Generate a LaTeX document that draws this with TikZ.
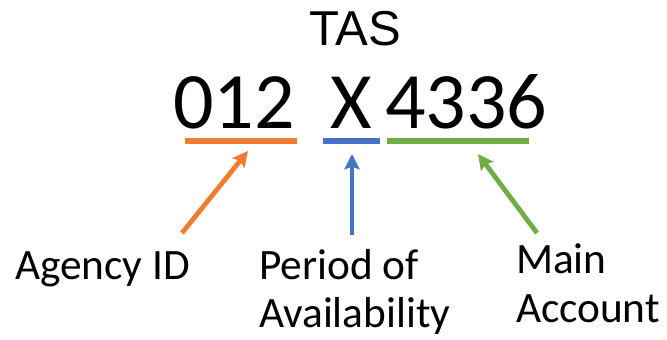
\documentclass[tikz,border=0pt]{standalone}
\usepackage{fontspec}
\setmainfont{Carlito}
\newfontfamily\arialfont{Liberation Sans}
\usetikzlibrary{arrows.meta}
\definecolor{offorange}{HTML}{ED7D31}
\definecolor{offblue}{HTML}{4472C4}
\definecolor{offgreen}{HTML}{70AD47}
\begin{document}
\begin{tikzpicture}[x=0.75pt,y=-0.75pt,
  txt/.style={inner sep=0pt, outer sep=0pt, anchor=base west},
  lbl/.style={txt, font=\fontsize{32.5}{38}\selectfont},
  code/.style={txt, font=\fontsize{60}{70}\selectfont},
  uline/.style={line width=3.9pt},
  ptr/.style={line width=3.6pt, -{Stealth[length=11.5pt,width=11.5pt,inset=2pt]}}]
\useasboundingbox (0,0) rectangle (667,339);
\node[txt, anchor=base, font=\arialfont\fontsize{36.75}{40}\selectfont] (tas) at (355,45) {TAS};
\node[code] (agency) at (173,128) {012};
\node[code] (period) at (330,128) {X};
\node[code] (main) at (385,128) {4336};
% underlines
\coordinate (oL) at (185,141); \coordinate (oR) at (297,141);
\coordinate (bL) at (323,141); \coordinate (bR) at (380,141);
\coordinate (gL) at (387,141); \coordinate (gR) at (529,141);
\draw[uline, offorange] (oL) -- (oR);
\draw[uline, offblue] (bL) -- (bR);
\draw[uline, offgreen] (gL) -- (gR);
% labels
\node[lbl] (lagency) at (15,279) {Agency ID};
\node[lbl] (lperiod) at (259,279) {Period of};
\node[lbl] (lperiod2) at (259,327) {Availability};
\node[lbl] (lmain) at (516,273) {Main};
\node[lbl] (lmain2) at (516,322) {Account};
% arrows
\coordinate (oT) at (182,233); \coordinate (oH) at (248,151);
\coordinate (bT) at (352,235); \coordinate (bH) at (352,154);
\coordinate (gT) at (537,233); \coordinate (gH) at (478,154);
\draw[ptr, offorange] (oT) -- (oH);
\draw[ptr, offblue] (bT) -- (bH);
\draw[ptr, offgreen] (gT) -- (gH);
\end{tikzpicture}
\end{document}
